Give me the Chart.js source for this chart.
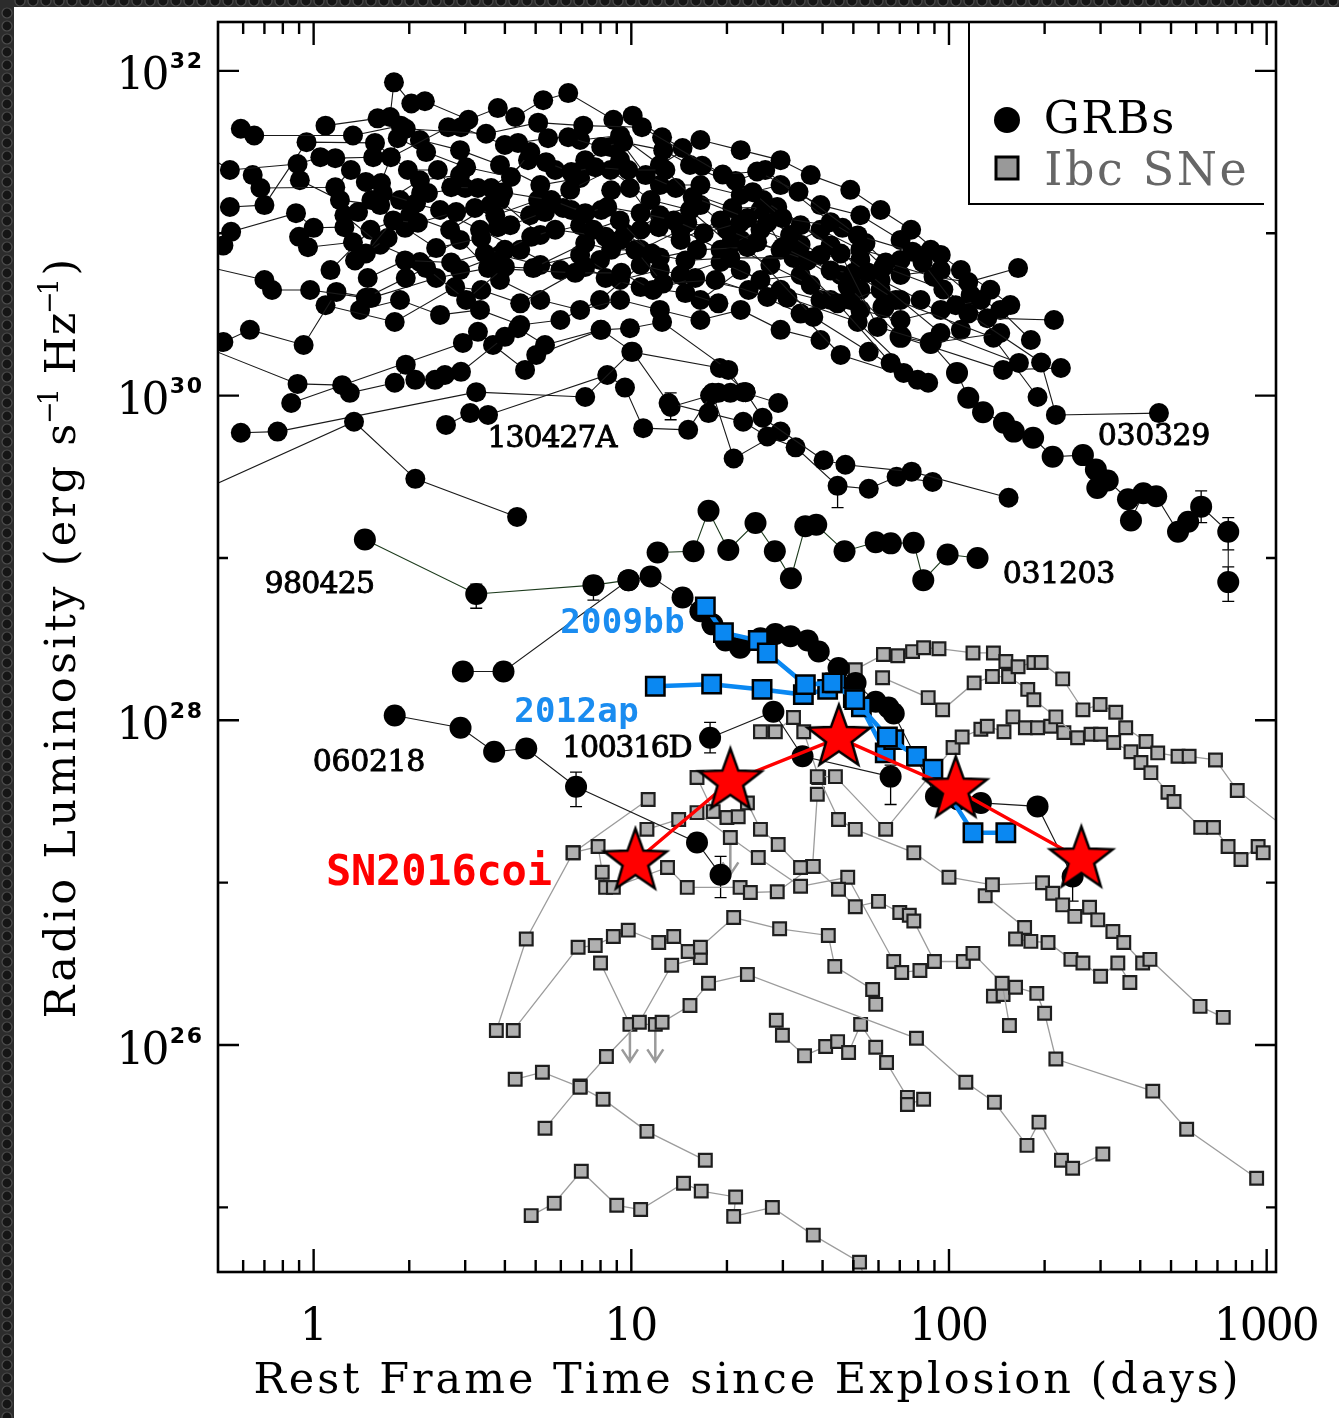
<!DOCTYPE html>
<html>
<head>
<meta charset="utf-8">
<title>Radio luminosity of GRBs and Ibc SNe</title>
<script src="https://cdn.jsdelivr.net/npm/chart.js@4.4.1/dist/chart.umd.min.js"></script>
<style>
  html, body { margin: 0; padding: 0; background: #fff; overflow: hidden; }
  canvas { display: block; }
</style>
</head>
<body>
<canvas id="myChart" width="1339" height="1418"></canvas>
<script>
// ---- data: [days, erg/s/Hz] ----

// GRB light curves in the big cloud
const grbCloud = [
  [[0.59,4.4e31],[0.65,4.0e31],[1.33,4.0e31],[1.88,4.6e31],[1.95,4.4e31],[3.49,4.1e31],[5.09,4.8e31],[7.06,4.6e31],[10.8,4.5e31],[19.4,2.3e31],[24.9,2.4e31],[33.6,1.8e31],[51.6,9.7e30],[76.8,7.7e30],[82.6,6.6e30],[105,3.6e30],[115,3.2e30],[195,1.6e30],[217,7.6e29],[458,7.8e29]],
  [[1.09,4.6e31],[1.59,5.1e31],[1.74,5.2e31],[1.79,8.5e31],[2.03,6.3e31],[2.24,6.5e31],[3.07,5.0e31],[3.8,5.9e31],[4.31,5.2e31],[5.28,6.6e31],[6.33,7.3e31],[8.78,5.0e31],[10.1,5.3e31],[12.5,3.9e31],[14.5,3.35e31],[16.7,2.6e31],[21.3,2.1e31],[26.4,2.45e31],[42.4,1.17e31],[54.6,8.7e30],[63.2,6.6e30],[89.4,5.4e30],[115,5.0e30],[165,6.1e30]],
  [[0.4,3.6e31],[0.545,2.45e31],[0.89,2.67e31],[1.05,2.94e31],[1.17,2.9e31],[1.54,2.94e31],[1.75,2.94e31],[2.65,4.5e31],[2.91,4.5e31],[4.0,3.5e31],[4.4,3.6e31],[5.47,3.85e31],[6.33,3.9e31],[8.04,3.4e31],[9.43,3.64e31],[12.6,3.25e31],[15.3,2.63e31],[24.1,1.79e31],[29.9,1.24e31],[46.2,1.08e31],[62.2,6.2e30],[96,4.5e30],[132,3.0e30],[214,2.92e30]],
  [[0.643,2.28e31],[0.68,1.9e31],[1.17,1.92e31],[1.31,2.45e31],[1.46,2.07e31],[1.63,2.04e31],[1.84,3.85e31],[2.26,3.16e31],[3.02,2.55e31],[4.18,2.22e31],[4.81,3.16e31],[5.39,2.74e31],[6.47,2.38e31],[7.7,2.55e31],[9.78,2.45e31],[12.8,2.45e31],[15.6,1.67e31],[23.2,1.24e31],[26,1.6e31],[34.1,1.12e31],[45.6,7.5e30],[59.6,2.65e30],[87.6,2.11e30],[145,2.43e30]],
  [[0.545,1.45e31],[0.70,1.49e31],[0.95,3.64e31],[1.56,3.6e31],[1.98,2.45e31],[2.46,2.45e31],[2.71,1.92e31],[3.29,1.9e31],[3.62,1.9e31],[4.73,2.82e31],[5.76,2.45e31],[7.16,2.82e31],[8.59,3.4e31],[9.3,3.64e31],[11.1,2.28e31],[13.8,1.9e31],[20.8,1.43e31],[28.8,1.45e31],[42.4,8.4e30],[55.4,5.7e30],[94,2.43e30],[166,1.59e30]],
  [[0.42,7.0e30],[0.52,8.4e30],[0.55,1.02e31],[0.88,1.33e31],[1.0,1.08e31],[1.25,1.09e31],[1.38,1.35e31],[1.52,1.6e31],[1.65,1.77e31],[2.1,1.53e31],[2.18,1.77e31],[2.29,1.77e31],[3.0,1.9e31],[3.95,1.79e31],[5.6,1.6e31],[7.16,1.33e31],[8.4,1.45e31],[10.7,1.33e31],[13.6,1.2e31],[16.9,1.0e31],[22,1.16e31],[26.8,1.16e31],[29.9,8.2e30],[42.4,5.9e30],[50,5.7e30],[68,3.88e30],[138,2.27e30],[190,9.8e29]],
  [[0.9,9.5e30],[0.96,8.2e30],[1.33,8.8e30],[1.46,7.5e30],[1.78,1.2e31],[2.13,1.16e31],[2.81,1.35e31],[3.22,1.43e31],[3.73,1.29e31],[5.09,1.6e31],[6.1,1.43e31],[8.04,1.39e31],[8.64,1.84e31],[9.9,1.9e31],[12.2,1.09e31],[15,1.16e31],[20,1.05e31],[24.9,8.8e30],[35.9,6.8e30],[48,4.7e30],[70.4,2.3e30],[148,1.44e30],[225,1.48e30]],
  [[1.35,6.8e30],[1.71,9.35e30],[1.94,1.08e31],[2.43,8.1e30],[3.37,9.35e30],[3.8,1.09e31],[4.16,1.12e31],[5.35,1.35e31],[6.47,1.39e31],[7.6,1.05e31],[9.2,1.2e31],[11.6,7.5e30],[14.8,6.8e30],[20.5,7.05e30],[32.4,7.05e30],[44.6,3.7e30],[65.5,1.59e30]],
  [[1.48,5.3e30],[1.94,6.8e30],[2.71,6.6e30],[3.46,7.5e30],[4.0,7.9e30],[4.84,9.5e30],[5.76,1.05e31],[8.3,9.5e30],[9.55,1.0e31],[12.3,7.1e30],[16.1,7.9e30],[23.2,8.2e30],[37.4,3.05e30],[55.9,1.86e30],[72,1.38e30]],
  [[0.42,6.5e30],[0.70,5.15e30],[0.74,4.47e30],[0.975,4.47e30],[1.46,4.0e30],[1.95,5.3e30],[2.26,6.1e30],[3.02,3.88e30],[4.0,6.2e30],[4.91,6.1e30],[7.16,8.7e30],[8.64,7.9e30],[10.3,7.9e30],[12.6,4.9e30],[18.4,5.15e30],[26.8,4.05e30],[31,4.0e30],[51.6,2.84e30],[79.7,1.25e30]],
  [[0.52,2.14e30],[0.63,2.54e30],[0.93,2.05e30],[1.18,4.35e30],[1.52,4.0e30],[2.43,5.3e30],[3.54,6.1e30],[6.66,5.7e30],[9.3,5.7e30],[11.7,4.47e30],[15.9,5.3e30],[23.4,4.47e30],[34.1,3.2e30],[45.6,1.78e30],[86,1.2e30]],
  [[1.09,3.6e30],[1.8,2.84e30],[2.79,4.66e30],[3.37,4.47e30],[4.47,3.7e30],[7.16,6.2e30],[8.3,5.3e30],[10.7,4.66e30],[14.8,4.28e30],[18.8,3.7e30]],
  [[0.4,2.2e30],[0.89,1.18e30],[1.23,1.16e30],[1.3,1.04e30],[1.8,1.2e30],[1.95,1.55e30],[2.09,1.25e30],[2.41,1.25e30],[2.59,1.34e30],[2.91,1.4e30],[4.0,2.3e30],[4.4,2.6e30],[5.35,2.05e30],[8.0,2.54e30],[9.9,2.6e30],[12.5,2.84e30],[20.2,1.44e30],[22.5,1.05e30],[29,9.0e29]],
  [[0.45,2.63e29],[1.34,6.9e29],[2.09,3.07e29],[4.37,1.79e29]],
  [[0.59,5.9e29],[0.77,6.0e29],[3.25,1.05e30],[7.16,9.8e29],[10,1.86e30],[19,1.48e30],[22.9,1.05e30],[25.9,7.3e29],[40.3,4.0e29],[47.2,3.75e29],[76.3,3.4e29],[154,2.35e29]],
  [[0.85,9.0e29],[2.95,2.11e30],[3.29,2.47e30],[3.67,2.05e30],[4.63,1.44e30],[5.02,1.78e30],[8.04,2.54e30],[10.1,1.86e30],[13.1,9.0e29],[17.5,7.8e29],[22.5,6.9e29],[26.8,5.6e29],[32.9,4.8e29],[44.6,2.78e29],[55.9,2.67e29],[68.4,3.16e29],[88.8,2.94e29]],
  [[2.61,6.6e29],[3.11,7.8e29],[3.54,7.6e29],[8.4,1.34e30],[9.55,1.12e30],[10.9,6.3e29],[15.1,6.15e29],[18,1.04e30],[21,4.1e29],[29.5,6.0e29]],
  [[13.3,8.5e29],[17.7,1.0e30],[18.8,1.04e30],[20.5,1.04e30],[22.9,1.05e30]],
  [[1.25,1.29e31],[1.62,8.5e30],[2.16,6.65e30],[2.89,9.1e30],[3.86,5.15e30],[5.17,3.88e30],[6.9,3.37e30],[9.22,3.88e30],[12.3,3.37e30],[16.5,2.92e30],[22.1,3.37e30],[29.5,2.54e30],[39.4,2.2e30]],
  [[1.13,5.93e30],[1.51,1.05e31],[2.01,1.29e31],[2.69,1.05e31],[3.6,1.49e31],[4.8,1.29e31],[6.42,1.85e31],[8.6,2.45e31],[11.5,1.6e31],[15.3,1.39e31],[20.5,8.5e30],[27.4,6.37e30],[36.7,4.8e30],[48.9,3.88e30],[60.9,4.48e30]],
  [[1.4,3.37e30],[1.87,3.88e30],[2.5,3.14e30],[3.34,3.37e30],[4.47,2.72e30],[5.98,2.92e30],[7.97,3.88e30],[10.7,6.37e30],[14.3,5.53e30],[19.1,6.65e30],[25.5,5.15e30],[34.1,5.53e30],[42.4,3.88e30],[52.6,3.37e30],[70.4,2.92e30],[94.2,3.37e30],[126,3.88e30]],
  [[2.16,3.75e31],[2.89,3.25e31],[3.86,2.63e31],[5.17,1.98e31],[6.9,2.19e31],[9.22,2.82e31],[12.3,1.98e31],[16.5,1.98e31],[22.1,1.72e31],[29.5,1.98e31],[39.4,1.49e31],[52.6,1.29e31],[70.4,9.1e30],[87.6,7.9e30]],
  [[6.9,3.75e31],[9.22,4.0e31],[12.3,2.63e31],[16.5,3.75e31],[22.1,3.25e31],[29.5,2.82e31],[36.7,2.28e31],[48.9,1.85e31],[60.9,1.39e31],[76,1.05e31],[94.2,7.35e30],[109,5.93e30],[135,4.48e30],[156,3.61e30]],
  [[10.7,1.05e31],[14.3,9.1e30],[19.1,1.2e31],[25.5,1.39e31],[31.6,9.75e30],[39.4,7.35e30],[52.6,6.85e30],[70.4,5.53e30],[94.2,5.93e30],[117,4.17e30],[145,3.37e30],[181,2.2e30]],
  [[2.89,5.93e30],[3.86,7.35e30],[5.17,6.37e30],[6.9,7.35e30],[9.22,5.15e30],[12.3,5.93e30],[16.5,3.88e30],[22.1,5.93e30],[29.5,4.48e30],[39.4,3.88e30],[52.6,4.48e30],[70.4,3.88e30]],
  [[1.87,1.6e31],[2.5,1.39e31],[3.34,1.05e31],[4.47,7.9e30],[5.98,5.93e30],[7.97,6.85e30],[10.7,7.9e30],[14.3,1.05e31],[19.1,7.9e30],[25.5,1.05e31],[34.1,8.5e30],[45.6,5.53e30],[60.9,5.15e30],[81.4,3.88e30],[109,2.54e30]],
  [[0.905,2.12e31],[1.21,1.6e31],[1.62,1.49e31],[2.16,2.12e31],[2.89,2.28e31],[3.86,1.6e31],[5.17,9.75e30],[6.9,1.12e31],[9.22,9.1e30],[12.3,1.29e31],[16.5,1.49e31],[22.1,9.1e30],[29.5,7.9e30],[39.4,1.05e31],[52.6,7.9e30],[70.4,6.85e30]]
];

// labelled GRBs
const grb030329 = [[62.2,3.5e30],[70.4,2.3e30],[87.6,2.11e30],[106,1.38e30],[115,9.7e29],[128,7.9e29],[149,6.8e29],[160,6.0e29],[184,5.5e29],[212,4.2e29],[264,4.3e29],[290,3.5e29],[293,2.7e29],[316,3.0e29],[366,2.3e29],[374,1.7e29],[409,2.5e29],[449,2.4e29],[526,1.45e29],[566,1.67e29],[622,2.07e29],[757,1.45e29],[757,7.1e28]];
const grb980425 = [[1.45,1.3e29],[3.25,6.0e28],[7.6,6.8e28],[9.8,7.3e28]];
const grb031203 = [[12.1,1.08e29],[15.7,1.1e29],[17.5,1.95e29],[20.2,1.12e29],[24.6,1.64e29],[28.3,1.1e29],[31.8,7.5e28],[35.3,1.57e29],[38.2,1.6e29],[46.9,1.1e29],[58.8,1.25e29],[65.6,1.23e29],[77.4,1.24e29],[83,7.3e28],[99,1.05e29],[123,1.0e29]];
const grb060218 = [[1.8,1.07e28],[2.9,9.0e27],[3.7,6.4e27],[4.67,6.7e27],[6.7,3.9e27],[16.1,1.77e27],[19.1,1.12e27]];
const grb100316D = [[17.7,7.8e27],[28,1.13e28],[34.6,6.0e27],[65.5,4.5e27]];
const grbLowChain = [[2.95,2.0e28],[3.96,2.0e28],[9.8,7.3e28],[11.5,7.7e28],[14.5,5.7e28],[16.5,4.7e28],[18,3.9e28],[19.8,3.1e28],[22,2.8e28],[25.5,3.2e28],[28.4,3.4e28],[31.7,3.3e28],[35.9,3.1e28],[38.9,2.65e28],[44.9,2.1e28],[50.8,1.7e28],[58.8,1.3e28],[64.5,1.2e28],[67,1.1e28],[91,3.4e27],[107,3.25e27],[126,3.1e27],[190,2.95e27],[245,1.09e27]];

// GRB error bars: [days, low, high]
const grbErrors = [[3.25,4.9e28,6.9e28],[7.6,5.5e28,7.7e28],[17.7,6.3e27,9.7e27],[6.7,2.94e27,4.8e27],[19.1,8.1e26,1.45e27],[44.6,2.04e29,3.0e29],[757,1.12e29,1.77e29],[757,5.4e28,8.8e28],[622,1.65e29,2.59e29],[65.5,3.03e27,5.3e27],[245,7.7e26,1.39e27],[13.3,7.1e29,1.04e30]];

// Ibc supernovae
const ibcCurves = [
  [[50.7,2.05e28],[62.2,2.54e28],[69,2.5e28],[76.8,2.65e28],[83.2,2.8e28],[93,2.76e28],[119,2.6e28],[138,2.6e28],[151,2.3e28],[165,2.14e28],[185,2.27e28],[195,2.27e28],[228,1.8e28],[264,1.16e28],[299,1.25e28],[335,1.12e28],[360,9.0e27],[417,7.4e27],[454,6.3e27],[526,6.0e27],[570,6.0e27],[690,5.7e27],[808,3.7e27],[1280,1.84e27]],
  [[61.8,1.83e28],[86,1.38e28],[95.5,1.16e28],[120,1.7e28],[137,1.86e28],[154,1.86e28],[177,1.55e28],[185,1.34e28],[217,1.05e28],[254,7.8e27],[280,8.2e27],[300,8.2e27],[330,7.3e27],[374,6.4e27],[402,5.5e27],[432,4.76e27],[489,3.6e27],[511,3.16e27],[620,2.19e27],[680,2.19e27],[756,1.67e27],[830,1.39e27],[940,1.67e27],[975,1.53e27]],
  [[38.5,4.5e27],[43.9,4.5e27],[63.2,2.13e27],[103,6.8e27],[110,7.9e27],[126,8.8e27],[132,9.2e27],[149,8.5e27],[159,1.05e28],[174,9.0e27],[190,9.0e27],[209,9.2e27],[230,8.4e27]],
  [[25.5,8.5e27],[28.4,8.5e27],[32.4,1.04e28],[34.9,8.5e27],[38.9,4.44e27],[44.9,2.45e27],[50.7,2.13e27],[77.5,1.53e27],[100,1.08e27],[137,9.7e26],[197,1.0e27],[212,8.6e26],[228,7.3e26],[249,6.2e26],[277,7.05e26],[294,5.9e26],[328,5.0e26],[355,4.28e26],[407,3.2e26],[429,3.37e26],[617,1.73e26],[730,1.48e26]],
  [[16.1,4.44e27],[18.1,2.74e27],[20,2.52e27],[21.7,2.55e27],[23.2,3.1e27],[25.5,2.13e27],[29,1.72e27],[34.1,1.24e27],[37.4,1.26e27],[44.9,9.1e26],[50.7,7.1e26],[60,7.67e26],[70,6.55e26],[75,6.3e26],[77.5,5.8e26],[90,3.27e26],[111,3.27e26],[119,3.67e26],[147,2.4e26],[155,1.32e26]],
  [[11.2,2.13e27],[14.1,2.45e27],[16.1,2.7e27],[20.5,1.9e27],[25.1,1.43e27],[34.1,9.5e26],[48,1.08e27],[67,3.27e26],[71,2.8e26],[81,2.88e26]],
  [[6.56,1.53e27],[7.86,1.67e27],[8.1,1.16e27],[8.3,9.35e26],[8.78,9.35e26],[13,1.24e27],[15,9.35e26],[22,9.35e26],[23.7,8.7e26],[28.8,8.8e26],[37.2,1.26e27],[38.5,3.5e27]],
  [[4.25,1.23e26],[6.8,4.0e26],[7.7,4.1e26],[8.78,4.66e26],[9.78,5.1e26],[12.2,4.28e26],[13.6,4.66e26],[15.1,3.77e26],[16.5,4.0e26],[21,6.1e26],[29.3,5.2e26],[41.7,4.73e26],[43.7,3.05e26],[57.5,2.2e26],[58.8,1.78e26]],
  [[3.76,1.23e26],[4.67,4.5e26],[6.56,1.53e27],[11.3,3.25e27]],
  [[4.31,6.15e25],[5.25,6.8e25],[6.9,5.5e25],[8.15,4.64e25],[11.2,2.94e25],[17.1,1.95e25]],
  [[5.35,3.07e25],[6.9,5.6e25],[8.35,8.5e25],[10.6,1.38e26],[13.4,3.1e26],[16.5,3.46e26]],
  [[4.84,8.9e24],[5.72,1.06e25],[6.96,1.67e25],[9.0,1.03e25],[10.7,9.7e24],[14.6,1.41e25],[16.6,1.26e25],[21.3,1.16e25],[21,8.8e24],[27.8,1.0e25],[37.4,6.75e24],[52.3,4.6e24],[56.7,2.7e24]],
  [[8.0,3.2e26],[9.9,1.34e26],[11.9,1.34e26],[12.5,1.38e26],[15.3,1.75e26],[17.5,2.4e26],[23.2,2.72e26],[79,1.1e26],[113,5.9e25],[139,4.44e25],[176,2.41e25],[192,3.35e25],[226,1.95e25],[245,1.74e25],[305,2.13e25]],
  [[28.6,1.42e26],[29.9,1.15e26],[35.1,8.6e25],[40.9,9.8e25],[44.6,1.05e26],[48.3,9.0e25],[52.7,1.34e26],[58.8,9.7e25],[63.6,7.8e25],[74,4.76e25],[74,4.3e25],[83.2,4.64e25]],
  [[130,8.3e26],[173,5.3e26],[162,4.5e26],[181,4.35e26],[205,4.28e26],[242,3.37e26],[264,3.2e26],[300,2.65e26],[340,3.2e26],[371,2.43e26]],
  [[138,2.0e26],[148,2.05e26],[162,2.27e26],[189,2.08e26],[200,1.57e26],[217,8.2e25],[438,5.2e25],[560,3.03e25],[930,1.51e25]]
];
// Ibc upper limits: [days, erg/s/Hz]
const ibcLimits = [[9.9,1.34e26],[11.9,1.34e26],[20.5,1.9e27]];

// relativistic SNe and SN2016coi
const sn2009bb = [[17.1,5.0e28],[19.5,3.47e28],[25.1,3.1e28],[26.8,2.6e28],[35.3,1.66e28],[42.9,1.7e28],[50.5,1.34e28],[64,7.9e27],[79,6.0e27],[89,5.0e27],[119,2.03e27],[151,2.03e27]];
const sn2012ap = [[11.9,1.62e28],[17.9,1.67e28],[25.8,1.55e28],[34.8,1.44e28],[41.5,1.55e28],[44,1.7e28],[50,1.38e28],[53,1.21e28],[63,6.3e27],[67,7.6e27]];
const sn2016coi = [[10.3,1.35e27],[20.5,4.2e27],[45,7.8e27],[105,3.75e27],[261,1.39e27]];

// axes
const xTickValues = [1, 10, 100, 1000];
const yTickExponents = [26, 28, 30, 32];
const xRange = [0.5, 1070];
const yRange = [4e24, 2e32];

// texts
const curveLabels = ['130427A', '030329', '980425', '031203', '060218', '100316D', '2009bb', '2012ap', 'SN2016coi'];
const legendLabels = ['GRBs', 'Ibc SNe'];
const xTitle = 'Rest Frame Time since Explosion (days)';

// where the labels sit (page pixels) and how they look
const labelLayout = [
  { x: 488, y: 447, adv: 18.4, font: '30px "DejaVu Serif"', color: '#000', bold: 0.9 },
  { x: 1098, y: 445, adv: 18.7, font: '30px "DejaVu Serif"', color: '#000', bold: 0.9 },
  { x: 265, y: 593, adv: 18.3, font: '30px "DejaVu Serif"', color: '#000', bold: 0.9 },
  { x: 1003, y: 583, adv: 18.7, font: '30px "DejaVu Serif"', color: '#000', bold: 0.9 },
  { x: 313, y: 771, adv: 18.7, font: '30px "DejaVu Serif"', color: '#000', bold: 0.9 },
  { x: 563, y: 757, adv: 18.4, font: '30px "DejaVu Serif"', color: '#000', bold: 0.9 },
  { x: 560, y: 633, adv: 20.8, font: 'bold 34px "DejaVu Sans Mono"', color: '#1a8cf0', bold: 0 },
  { x: 514, y: 722, adv: 20.8, font: 'bold 34px "DejaVu Sans Mono"', color: '#1a8cf0', bold: 0 },
  { x: 326, y: 885, adv: 25.1, font: 'bold 42px "DejaVu Sans Mono"', color: '#ff0000', bold: 0 }
]

const W = 1339, H = 1418
const FONT = '"DejaVu Serif"'

// text with fixed advance per character, drawn as one string
function spacedText(c, txt, x, y, adv, align, bold) {
  c.letterSpacing = '0px'
  const w0 = c.measureText(txt).width
  const n = txt.length
  const extra = (adv * n - w0) / n
  c.letterSpacing = extra.toFixed(2) + 'px'
  const start = align === 'center' ? x - adv * n / 2 : x
  c.textAlign = 'left'
  c.fillText(txt, start + extra / 2, y)
  if (bold) {
    c.lineWidth = bold
    c.strokeStyle = c.fillStyle
    c.strokeText(txt, start + extra / 2, y)
  }
  c.letterSpacing = '0px'
  return adv * n
}

function makeStar(R, r) {
  const cv = document.createElement('canvas')
  const s = Math.ceil(2 * R + 8)
  cv.width = s
  cv.height = s
  const g = cv.getContext('2d')
  g.translate(s / 2, s / 2)
  g.beginPath()
  for (let i = 0; i < 10; i++) {
    const ang = -Math.PI / 2 + i * Math.PI / 5
    const rr = i % 2 ? r : R
    g.lineTo(rr * Math.cos(ang), rr * Math.sin(ang))
  }
  g.closePath()
  g.fillStyle = '#ff0000'
  g.fill()
  g.lineWidth = 2.5
  g.strokeStyle = '#000'
  g.stroke()
  return cv
}

const toXY = cv => cv.map(p => ({ x: p[0], y: p[1] }))

const ibcStyle = { showLine: true, borderColor: '#9c9c9c', borderWidth: 1.3, pointStyle: 'rect', pointRadius: 9,
  pointBackgroundColor: '#b0b0b0', pointBorderColor: '#1e1e1e', pointBorderWidth: 2.2, order: 4, clip: 0 }
const grbStyle = { showLine: true, borderColor: '#1a1a1a', borderWidth: 1.1, pointStyle: 'circle', pointRadius: 10,
  pointBackgroundColor: '#000', pointBorderColor: '#000', pointBorderWidth: 0, order: 3, clip: 0 }
const grbBig = Object.assign({}, grbStyle, { pointRadius: 11 })
const grbGreen = Object.assign({}, grbBig, { borderColor: '#1d3b1d' })
const blueStyle = { showLine: true, borderColor: '#0a88f2', borderWidth: 4.5, pointStyle: 'rect', pointRadius: 13,
  pointBackgroundColor: '#0a88f2', pointBorderColor: '#000', pointBorderWidth: 2.5, order: 2, clip: 0 }

const datasets = []
ibcCurves.forEach(cv => datasets.push(Object.assign({ label: 'Ibc SNe', data: toXY(cv) }, ibcStyle)))
grbCloud.forEach(cv => datasets.push(Object.assign({ label: 'GRBs', data: toXY(cv) }, grbStyle)))
datasets.push(Object.assign({ label: '030329', data: toXY(grb030329) }, grbBig))
datasets.push(Object.assign({ label: '980425', data: toXY(grb980425) }, grbGreen))
datasets.push(Object.assign({ label: '031203', data: toXY(grb031203) }, grbGreen))
datasets.push(Object.assign({ label: '060218', data: toXY(grb060218) }, grbBig))
datasets.push(Object.assign({ label: '100316D', data: toXY(grb100316D) }, grbBig))
datasets.push(Object.assign({ label: 'GRBs', data: toXY(grbLowChain) }, grbBig))
datasets.push(Object.assign({ label: '2009bb', data: toXY(sn2009bb) }, blueStyle))
datasets.push(Object.assign({ label: '2012ap', data: toXY(sn2012ap) }, blueStyle))
datasets.push({ label: 'SN2016coi', data: toXY(sn2016coi), showLine: true, borderColor: '#ff0000', borderWidth: 3.5,
  pointStyle: makeStar(33, 13.5), pointRadius: 33, order: 1, clip: 0 })

// frame, ticks, labels and legend drawn on top of the library scales
const framePlugin = {
  id: 'frame',
  beforeDraw(chart) {
    const c = chart.ctx
    c.save()
    c.fillStyle = '#fff'
    c.fillRect(0, 0, W, H)
    // dark textured border, left and top
    c.fillStyle = '#2c2c2c'
    c.fillRect(0, 0, 14, H)
    c.fillRect(0, 0, W, 7)
    c.beginPath()
    c.rect(0, 0, 14, H)
    c.rect(14, 0, W, 7)
    c.clip()
    for (let y = 13; y < H; y += 13) {
      c.beginPath(); c.arc(7, y, 5, 0, 2 * Math.PI)
      c.fillStyle = '#151515'; c.fill()
      c.strokeStyle = '#4d4d4d'; c.lineWidth = 1.2; c.stroke()
    }
    for (let x = 20; x < W; x += 13) {
      c.beginPath(); c.arc(x, 1, 5, 0, 2 * Math.PI)
      c.fillStyle = '#151515'; c.fill()
      c.strokeStyle = '#4d4d4d'; c.lineWidth = 1.2; c.stroke()
    }
    c.restore()
  },
  beforeDatasetsDraw(chart) {
    const c = chart.ctx, xs = chart.scales.x, ys = chart.scales.y, a = chart.chartArea
    c.save()
    c.beginPath(); c.rect(a.left, a.top, a.right - a.left, a.bottom - a.top); c.clip()
    // error bars
    c.strokeStyle = '#000'; c.lineWidth = 1.3
    grbErrors.forEach(([t, lo, hi]) => {
      const x = xs.getPixelForValue(t), y1 = ys.getPixelForValue(lo), y2 = ys.getPixelForValue(hi)
      c.beginPath()
      c.moveTo(x, y1); c.lineTo(x, y2)
      c.moveTo(x - 6, y1); c.lineTo(x + 6, y1)
      c.moveTo(x - 6, y2); c.lineTo(x + 6, y2)
      c.stroke()
    })
    // upper limit arrows
    c.strokeStyle = '#9a9a9a'; c.lineWidth = 2.5
    ibcLimits.forEach(([t, v]) => {
      const x = xs.getPixelForValue(t), y = ys.getPixelForValue(v)
      c.beginPath()
      c.moveTo(x, y); c.lineTo(x, y + 37)
      c.moveTo(x - 8, y + 25); c.lineTo(x, y + 37); c.lineTo(x + 8, y + 25)
      c.stroke()
    })
    c.restore()
  },
  afterDraw(chart) {
    const c = chart.ctx, xs = chart.scales.x, ys = chart.scales.y, a = chart.chartArea
    c.save()
    c.strokeStyle = '#000'
    c.fillStyle = '#000'
    c.lineWidth = 2.6
    c.strokeRect(a.left, a.top, a.right - a.left, a.bottom - a.top)

    // x ticks, bottom and top
    c.lineWidth = 2.4
    c.beginPath()
    for (let d = -1; d <= 3; d++) {
      for (let m = 1; m <= 9; m++) {
        const v = m * Math.pow(10, d)
        if (v <= xRange[0] || v >= xRange[1]) continue
        const px = xs.getPixelForValue(v)
        const len = m === 1 ? 23 : 12
        c.moveTo(px, a.bottom); c.lineTo(px, a.bottom - len)
        c.moveTo(px, a.top); c.lineTo(px, a.top + len)
      }
    }
    // y ticks, left and right
    for (let e = 24; e <= 32; e++) {
      const v = Math.pow(10, e)
      if (v <= yRange[0] || v >= yRange[1]) continue
      const py = ys.getPixelForValue(v)
      const len = e % 2 === 0 ? 21 : 10
      c.moveTo(a.left, py); c.lineTo(a.left + len, py)
      c.moveTo(a.right, py); c.lineTo(a.right - len, py)
    }
    c.stroke()

    // tick labels
    c.textBaseline = 'alphabetic'
    c.font = '44px ' + FONT
    xTickValues.forEach(v => spacedText(c, String(v), xs.getPixelForValue(v), 1340, 26, 'center'))
    yTickExponents.forEach(e => {
      const py = ys.getPixelForValue(Math.pow(10, e))
      c.font = '44px ' + FONT
      spacedText(c, '10', 118, py + 18.5, 25, 'left')
      c.font = 'bold 22px "DejaVu Sans"'
      spacedText(c, String(e), 169, py - 2.5, 17, 'left')
    })

    // axis titles
    c.font = '43px ' + FONT
    spacedText(c, xTitle, 746, 1393, 26, 'center')
    c.save()
    c.translate(75, 1020)
    c.rotate(-Math.PI / 2)
    let pos = 0
    c.font = '43px ' + FONT
    pos += spacedText(c, 'Radio Luminosity (erg s', pos, 0, 26, 'left')
    c.font = '27px ' + FONT
    pos += spacedText(c, '\u22121', pos, -17, 16, 'left')
    c.font = '43px ' + FONT
    pos += spacedText(c, ' Hz', pos, 0, 26, 'left')
    c.font = '27px ' + FONT
    pos += spacedText(c, '\u22121', pos, -17, 16, 'left')
    c.font = '43px ' + FONT
    spacedText(c, ')', pos, 0, 26, 'left')
    c.restore()

    // curve labels
    curveLabels.forEach((txt, i) => {
      const L = labelLayout[i]
      c.font = L.font
      c.fillStyle = L.color
      spacedText(c, txt, L.x, L.y, L.adv, 'left', L.bold)
    })

    // legend
    c.strokeStyle = '#000'
    c.lineWidth = 2
    c.beginPath()
    c.moveTo(969, a.top); c.lineTo(969, 204); c.lineTo(1264, 204)
    c.stroke()
    c.fillStyle = '#000'
    c.beginPath(); c.arc(1007, 120, 13, 0, 2 * Math.PI); c.fill()
    c.fillStyle = '#999'
    c.fillRect(996, 157, 22, 22)
    c.lineWidth = 3
    c.strokeRect(996, 157, 22, 22)
    c.font = '45px ' + FONT
    c.fillStyle = '#000'
    spacedText(c, legendLabels[0], 1043, 133, 33, 'left')
    c.font = '46px ' + FONT
    c.fillStyle = '#666'
    spacedText(c, legendLabels[1], 1043, 185, 29.3, 'left')
    c.restore()
  }
}

var myChart = new Chart(document.getElementById('myChart').getContext('2d'), {
  type: 'scatter',
  data: { datasets: datasets },
  options: {
    responsive: false,
    animation: false,
    events: [],
    layout: { autoPadding: false, padding: { left: 218, top: 22, right: 63, bottom: 146 } },
    elements: { line: { tension: 0 } },
    plugins: { legend: { display: false }, tooltip: { enabled: false } },
    scales: {
      x: { type: 'logarithmic', min: xRange[0], max: xRange[1], display: false },
      y: { type: 'logarithmic', min: yRange[0], max: yRange[1], display: false }
    }
  },
  plugins: [framePlugin]
})
</script>
</body>
</html>
